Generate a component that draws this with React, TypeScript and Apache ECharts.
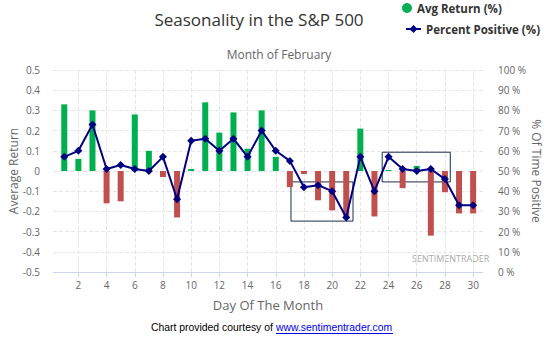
import React, { useEffect, useRef } from "react";
import * as echarts from "echarts";

const days = [1, 2, 3, 4, 5, 6, 7, 8, 9, 10, 11, 12, 13, 14, 15, 16, 17, 18, 19, 20, 21, 22, 23, 24, 25, 26, 27, 28, 29, 30];
const avgReturn = [0.33, 0.06, 0.3, -0.16, -0.15, 0.28, 0.1, -0.03, -0.23, 0.01, 0.34, 0.19, 0.29, 0.11, 0.3, 0.07, -0.08, -0.015, -0.145, -0.195, -0.235, 0.21, -0.225, 0.005, -0.085, 0.025, -0.32, -0.105, -0.21, -0.21];
const pctPositive = [57, 60, 73, 51, 53, 51, 50, 57, 36, 65, 66, 60, 66, 57, 70, 60, 55, 42, 43, 40, 27, 57, 40, 57, 51, 50, 51, 46, 33, 33];
const xTicks = [2, 4, 6, 8, 10, 12, 14, 16, 18, 20, 22, 24, 26, 28, 30];
const boxes = [
  { x0: 17.08, x1: 21.48, y0: 44.6, y1: 25.2 },
  { x0: 23.55, x1: 28.38, y0: 59.3, y1: 44.6 },
];

const GREEN = "#00b050";
const RED = "#c0504d";
const NAVY = "#000080";
const FONT = "Open Sans";
const BAR_W = 6;

export default function App() {
  const ref = useRef<HTMLDivElement>(null);
  useEffect(() => {
    if (!ref.current) return;
    const chart = echarts.init(ref.current, null, { renderer: "svg" });
    const barData = days.map((d, i) => [d, avgReturn[i]]);
    const lineData = days.map((d, i) => [d, pctPositive[i]]);
    chart.setOption({
      animation: false,
      textStyle: { fontFamily: FONT },
      title: [
        {
          text: "Seasonality in the S&P 500",
          left: 254,
          top: 6,
          textAlign: "center",
          textStyle: { fontSize: 17, fontWeight: "normal", color: "#333", fontFamily: FONT },
        },
        {
          text: "Month of February",
          left: 274,
          top: 43,
          textAlign: "center",
          textStyle: { fontSize: 12, fontWeight: "normal", color: "#666", fontFamily: FONT },
        },
      ],
      legend: [
        {
          data: [{ name: "Avg Return (%)", icon: "circle" }],
          left: 402,
          top: 2,
          padding: 0,
          itemWidth: 10,
          itemHeight: 10,
          textStyle: { fontSize: 11.5, fontWeight: "bold", color: "#333", fontFamily: FONT },
        },
        {
          data: ["Percent Positive (%)"],
          left: 405,
          top: 23,
          padding: 0,
          itemWidth: 15,
          itemHeight: 10,
          textStyle: { fontSize: 11.5, fontWeight: "bold", color: "#333", fontFamily: FONT },
        },
      ],
      grid: { left: 53, right: 62, top: 70, bottom: 65, containLabel: false, outerBoundsMode: "none" },
      xAxis: {
        type: "value",
        min: 0.2,
        max: 30.7,
        name: "Day Of The Month",
        nameLocation: "middle",
        nameGap: 26,
        nameMoveOverlap: false,
        nameTextStyle: { fontSize: 13, color: "#666", fontFamily: FONT },
        axisLine: { show: true, onZero: false, lineStyle: { color: "#ccd6eb" } },
        axisTick: { show: true, length: 5, customValues: xTicks, lineStyle: { color: "#ccd6eb" } },
        axisLabel: { customValues: xTicks, color: "#666", fontSize: 10, margin: 8, fontFamily: FONT },
        splitLine: { show: true, lineStyle: { type: "dashed", color: "#e6e6e6" } },
      },
      yAxis: [
        {
          type: "value",
          min: -0.5,
          max: 0.5,
          interval: 0.1,
          name: "Average Return",
          nameLocation: "middle",
          nameGap: 34,
          nameMoveOverlap: false,
          nameTextStyle: { fontSize: 12, color: "#666", fontFamily: FONT },
          axisLine: { show: false },
          axisTick: { show: false },
          axisLabel: {
            color: "#666",
            fontSize: 10,
            margin: 13,
            fontFamily: FONT,
            formatter: (v: number) => String(Math.round(v * 10) / 10),
          },
          splitLine: { show: true, lineStyle: { type: "dashed", color: "#e6e6e6" } },
        },
        {
          type: "value",
          min: 0,
          max: 100,
          interval: 10,
          name: "% Of Time Positive",
          nameLocation: "middle",
          nameGap: 47,
          nameRotate: -90,
          nameMoveOverlap: false,
          nameTextStyle: { fontSize: 12, color: "#666", fontFamily: FONT },
          axisLine: { show: false },
          axisTick: { show: false },
          axisLabel: { color: "#666", fontSize: 10, margin: 15, fontFamily: FONT, formatter: "{value} %" },
          splitLine: { show: false },
        },
      ],
      series: [
        {
          name: "Avg Return (%)",
          type: "custom",
          yAxisIndex: 0,
          itemStyle: { color: GREEN },
          encode: { x: 0, y: 1 },
          data: barData,
          renderItem: (params: any, api: any) => {
            const x = api.value(0);
            const y = api.value(1);
            const p0 = api.coord([x, 0]);
            const p1 = api.coord([x, y]);
            return {
              type: "rect",
              shape: {
                x: p0[0] - BAR_W / 2,
                y: Math.min(p0[1], p1[1]),
                width: BAR_W,
                height: Math.abs(p1[1] - p0[1]),
              },
              style: { fill: y >= 0 ? GREEN : RED },
            };
          },
        },
        {
          name: "Percent Positive (%)",
          type: "line",
          yAxisIndex: 1,
          symbol: "diamond",
          symbolSize: 8,
          itemStyle: { color: NAVY },
          lineStyle: { color: NAVY, width: 2 },
          data: lineData,
          z: 3,
          markArea: {
            silent: true,
            itemStyle: { color: "rgba(0,0,0,0)", borderColor: "#1c2e4a", borderWidth: 1 },
            data: boxes.map((b) => [
              { xAxis: b.x0, yAxis: b.y0 },
              { xAxis: b.x1, yAxis: b.y1 },
            ]),
          },
        },
      ],
      graphic: [
        {
          type: "text",
          left: 412,
          top: 254,
          style: { text: "SENTIMENTRADER", fontSize: 9, fill: "#aaa", fontFamily: FONT },
          silent: true,
        },
        {
          type: "text",
          left: 151,
          top: 322,
          style: { text: "Chart provided courtesy of", fontSize: 10.4, fill: "#000", fontFamily: "Liberation Sans" },
        },
        {
          type: "text",
          left: 276,
          top: 322,
          style: { text: "www.sentimentrader.com", fontSize: 10.4, fill: "#0000ee", fontFamily: "Liberation Sans" },
        },
        {
          type: "line",
          shape: { x1: 276, y1: 333.5, x2: 393, y2: 333.5 },
          style: { stroke: "#0000ee", lineWidth: 1 },
        },
      ],
    });
    return () => chart.dispose();
  }, []);
  return <div ref={ref} style={{ position: "absolute", left: 0, top: 0, width: 545, height: 337 }} />;
}
